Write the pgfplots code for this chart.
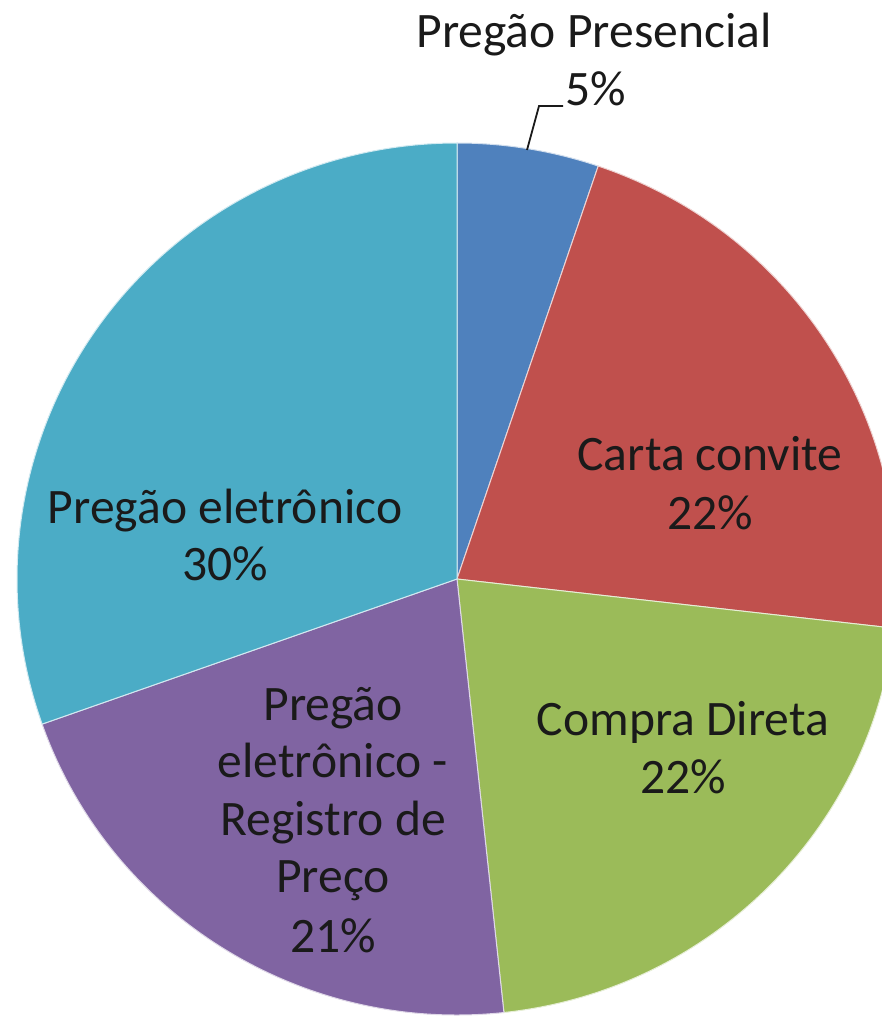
\documentclass[border=0pt]{standalone}
\usepackage{fontspec}
\setmainfont{Carlito}
\usepackage{pgfplots}
\usepackage{pgfplotstable}
\pgfplotsset{compat=1.18}

\definecolor{cPP}{HTML}{4F81BD}
\definecolor{cCC}{HTML}{C0504D}
\definecolor{cCD}{HTML}{9BBB59}
\definecolor{cRP}{HTML}{8064A2}
\definecolor{cPE}{HTML}{4BACC6}
\definecolor{txt}{HTML}{1A1A1A}

% share of each slice (percent), clockwise from 12 o'clock
\pgfplotstableread{
key value
PP 5.2
CC 21.6
CD 21.5
RP 21.3
PE 30.4
}\piedata

\newcommand\getv[2]{\pgfplotstablegetelem{#1}{value}\of\piedata\global\let#2\pgfplotsretval}
\tikzset{lbl/.style={font=\fontsize{24.8}{29}\selectfont, text=txt, inner sep=0pt, anchor=base}}

\begin{document}
\begin{tikzpicture}
\getv{0}{\vA}\getv{1}{\vB}\getv{2}{\vC}\getv{3}{\vD}\getv{4}{\vE}
\pgfmathsetmacro\tA{90}
\pgfmathsetmacro\tB{\tA-3.6*\vA}
\pgfmathsetmacro\tC{\tB-3.6*\vB}
\pgfmathsetmacro\tD{\tC-3.6*\vC}
\pgfmathsetmacro\tE{\tD-3.6*\vD}
\pgfmathsetmacro\tF{\tE-3.6*\vE}
\begin{axis}[
  width=441pt, height=508pt, scale only axis,
  xmin=0, xmax=882, ymin=0, ymax=1016, y dir=reverse,
  hide axis,
]
\coordinate (bbA) at (rel axis cs:0,0);
\coordinate (bbB) at (rel axis cs:1,1);
\def\sector#1#2#3{\fill[#1, draw=white!75!#1, line width=0.5pt]
  (axis cs:457,579) -- ++(#2:220pt and 218pt)
  arc[start angle=#2, end angle=#3, x radius=220pt, y radius=218pt] -- cycle;}
\sector{cPP}{\tA}{\tB}
\sector{cCC}{\tB}{\tC}
\sector{cCD}{\tC}{\tD}
\sector{cRP}{\tD}{\tE}
\sector{cPE}{\tE}{\tF}

% leader line of the small slice
\draw[txt, line width=0.9pt] (axis cs:527,150) -- (axis cs:539,106) -- (axis cs:563,106);

\node[lbl] at (axis cs:594,48) {Pregão Presencial};
\node[lbl] at (axis cs:596,106) {5\%};
\node[lbl] at (axis cs:710,470) {Carta convite};
\node[lbl] at (axis cs:710,529) {22\%};
\node[lbl] at (axis cs:683,735) {Compra Direta};
\node[lbl] at (axis cs:683,793) {22\%};
\node[lbl] at (axis cs:225,523) {Pregão eletrônico};
\node[lbl] at (axis cs:225,580) {30\%};
\node[lbl] at (axis cs:333,720) {Pregão};
\node[lbl] at (axis cs:333,777.5) {eletrônico -};
\node[lbl] at (axis cs:333,835) {Registro de};
\node[lbl] at (axis cs:333,892.5) {Preço};
\node[lbl] at (axis cs:333,952) {21\%};
\end{axis}
\pgfresetboundingbox
\useasboundingbox (bbA) rectangle (bbB);
\end{tikzpicture}
\end{document}
